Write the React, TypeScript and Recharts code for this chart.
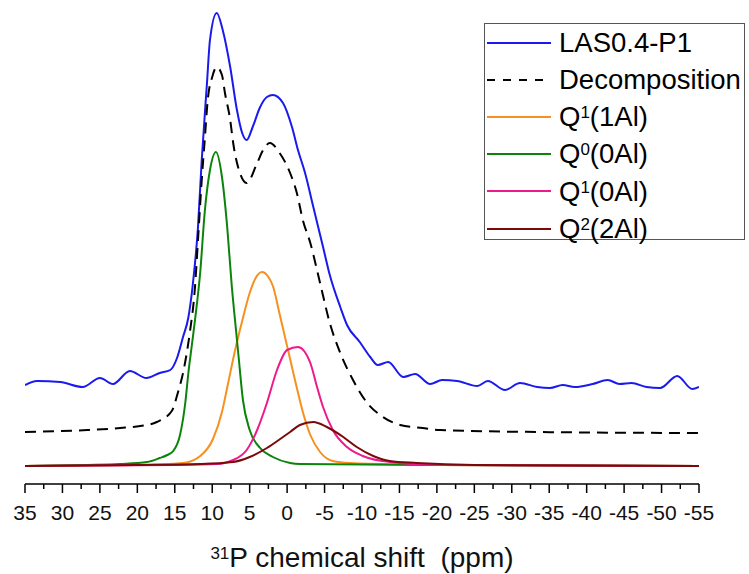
import { Legend, Line, LineChart, XAxis, YAxis } from "recharts";

const FONT = '"Liberation Sans", Arial, sans-serif';

// axis ticks (ppm, reversed axis)
const xTicks = [35, 30, 25, 20, 15, 10, 5, 0, -5, -10, -15, -20, -25, -30, -35, -40, -45, -50, -55];
const minorTicks = [32.5, 27.5, 22.5, 17.5, 12.5, 7.5, 2.5, -2.5, -7.5, -12.5, -17.5, -22.5, -27.5, -32.5, -37.5, -42.5, -47.5, -52.5];

// measured spectrum LAS0.4-P1
const lasShift = [35, 33.4, 30.3, 27.3, 25.0, 23.25, 21.0, 18.8, 17.0, 15.6, 14.7, 13.9, 13.2, 12.6, 11.9, 11.4, 10.7, 10.3, 9.4, 8.6, 7.6, 6.7, 6.0, 5.4, 4.6, 3.6, 2.7, 1.9, 0.55, -0.65, -1.45, -2.4, -3.5, -4.8, -5.7, -7.1, -8.0, -9.7, -11.1, -12.1, -13.5, -15.5, -17.1, -19.1, -20.7, -22.7, -25.4, -26.8, -29.1, -31.1, -33.4, -35.1, -36.8, -38.4, -40.8, -42.8, -44.4, -46.0, -48.0, -49.8, -52.1, -54.1, -55];
const lasIntensity = [99, 103, 102, 97, 106, 100, 113, 106, 111, 114, 126, 147, 166, 199, 257, 324, 401, 444, 471, 454, 417, 374, 351, 344, 357, 377, 387, 389, 381, 357, 334, 311, 277, 237, 209, 177, 159, 142, 127, 119, 122, 107, 110, 100, 104, 103, 98, 103, 94, 101, 97, 96, 99, 97, 100, 104, 100, 101, 97, 96, 108, 95, 97];

// sum of the fitted components (offset)
const fitShift = [35, 26.7, 22.3, 19.6, 17.4, 15.4, 14.6, 13.9, 13.4, 13.0, 12.3, 11.9, 11.4, 11.0, 10.6, 10.0, 9.4, 8.7, 8.3, 7.6, 7.2, 6.3, 5.4, 4.0, 3.2, 2.3, 1.0, -0.4, -1.3, -2.1, -3.1, -4.4, -5.7, -7.1, -8.8, -10.7, -12.8, -15.1, -18.1, -20.4, -33.4, -55];
const fitIntensity = [52, 54, 56, 58, 62, 73, 91, 111, 131, 151, 197, 244, 304, 344, 384, 407, 417, 409, 391, 364, 341, 311, 301, 321, 334, 341, 331, 311, 291, 264, 241, 201, 161, 131, 104, 81, 67, 59, 56, 54, 52, 51];

// Q1(1Al)
const q1AlShift = [35, 20.0, 13.9, 11.6, 9.9, 8.7, 7.9, 7.0, 6.0, 5.0, 4.2, 3.35, 2.5, 1.9, 1.0, -0.4, -1.3, -2.1, -3.1, -4.4, -6.1, -8.4, -20.4, -55];
const q1AlIntensity = [18, 19, 21, 28, 45, 72, 100, 132, 163, 191, 206, 212, 207, 198, 170, 125, 96, 72, 49, 32, 23, 21, 19, 18];

// Q0(0Al)
const q0Shift = [35, 26.7, 22.3, 18.7, 17.0, 16.0, 15.2, 14.3, 13.6, 13.2, 12.7, 12.3, 11.6, 11.0, 10.3, 9.5, 8.7, 8.0, 7.4, 6.8, 6.5, 5.9, 5.0, 3.6, 1.9, -0.4, -1.7, -20.4, -55];
const q0Intensity = [18, 19, 20, 22, 26, 29, 33, 49, 81, 110, 140, 164, 212, 272, 314, 332, 307, 257, 199, 152, 129, 84, 54, 36, 27, 21, 20, 19, 18];

// Q1(0Al)
const q10Shift = [35, 15.0, 9.4, 7.2, 5.4, 4.0, 2.7, 1.35, 0.0, -1.45, -3.1, -4.0, -4.8, -6.1, -8.0, -10.1, -13.7, -20.4, -55];
const q10Intensity = [18, 19, 20, 24, 34, 54, 81, 114, 134, 137, 121, 97, 77, 54, 37, 28, 22, 19, 18];

// Q2(2Al)
const q2Shift = [35, 20.0, 11.6, 7.2, 5.0, 2.7, 0.55, -0.4, -1.7, -3.5, -5.3, -7.5, -9.3, -11.5, -13.7, -17.3, -25.0, -55];
const q2Intensity = [18, 19, 20, 22, 27, 36, 47, 52, 59, 62, 57, 47, 37, 28, 23, 21, 19, 18];

const series = [
  { key: "las", label: "LAS0.4-P1", sup: "", rest: "", shift: lasShift, value: lasIntensity, color: "#1a1aee", dash: undefined },
  { key: "fit", label: "Decomposition", sup: "", rest: "", shift: fitShift, value: fitIntensity, color: "#000000", dash: "11 7" },
  { key: "q11", label: "Q", sup: "1", rest: "(1Al)", shift: q1AlShift, value: q1AlIntensity, color: "#f7901e", dash: undefined },
  { key: "q00", label: "Q", sup: "0", rest: "(0Al)", shift: q0Shift, value: q0Intensity, color: "#0b840b", dash: undefined },
  { key: "q10", label: "Q", sup: "1", rest: "(0Al)", shift: q10Shift, value: q10Intensity, color: "#ee1a8c", dash: undefined },
  { key: "q22", label: "Q", sup: "2", rest: "(2Al)", shift: q2Shift, value: q2Intensity, color: "#7a0a0a", dash: undefined },
];

function ShiftTick(props: any) {
  const { x, y, payload } = props;
  const major = payload.value % 5 === 0;
  return (
    <g>
      <line x1={x} x2={x} y1={y} y2={y + (major ? 9 : 5)} stroke="#000" strokeWidth={1.5} />
      {major && (
        <text x={x} y={y + 36} textAnchor="middle" fontSize={21} fill="#111" fontFamily={FONT}>
          {payload.value}
        </text>
      )}
    </g>
  );
}

function AxisTitle(props: any) {
  const vb = props.viewBox;
  return (
    <text
      x={vb.x + vb.width / 2}
      y={vb.y + 83}
      textAnchor="middle"
      fontFamily={FONT}
      fill="#111"
      style={{ whiteSpace: "pre" }}
    >
      <tspan fontSize={17} dy={-8}>31</tspan>
      <tspan fontSize={28} dy={8}>P chemical shift  (ppm)</tspan>
    </text>
  );
}

function LegendBox() {
  return (
    <div
      style={{
        width: 261,
        height: 217,
        boxSizing: "border-box",
        border: "1px solid #555",
        background: "#fff",
        fontFamily: FONT,
        fontSize: 27.5,
        color: "#000",
      }}
    >
      {series.map((s) => (
        <div key={s.key} style={{ display: "flex", alignItems: "center", height: 37.2 }}>
          <svg width={64} height={6} style={{ marginLeft: 2, flex: "none" }}>
            <line x1={0} x2={64} y1={3} y2={3} stroke={s.color} strokeWidth={2} strokeDasharray={s.dash ? "8 8" : undefined} />
          </svg>
          <span style={{ marginLeft: 8, lineHeight: 1, whiteSpace: "nowrap" }}>
            {s.label}
            {s.sup && (
              <span style={{ fontSize: 17, position: "relative", top: -8, lineHeight: 0 }}>{s.sup}</span>
            )}
            {s.rest}
          </span>
        </div>
      ))}
    </div>
  );
}

export default function App() {
  return (
    <div style={{ position: "absolute", left: 0, top: 0, width: 749, height: 574, background: "#fff" }}>
      <LineChart width={749} height={574} margin={{ top: 9, right: 50, bottom: 10, left: 25 }}>
        <XAxis
          type="number"
          dataKey="x"
          domain={[-55, 35]}
          reversed
          allowDataOverflow
          ticks={[...xTicks, ...minorTicks]}
          interval={0}
          tickSize={0}
          tickMargin={0}
          tickLine={false}
          tick={(p: any) => <ShiftTick {...p} />}
          axisLine={{ stroke: "#000", strokeWidth: 1.5 }}
          height={80}
          label={(p: any) => <AxisTitle {...p} />}
        />
        <YAxis type="number" domain={[0, 475]} hide />
        {series.map((s) => (
          <Line
            key={s.key}
            data={s.shift.map((x, i) => ({ x, y: s.value[i] }))}
            dataKey="y"
            name={s.key}
            type="monotone"
            stroke={s.color}
            strokeWidth={2}
            strokeDasharray={s.dash}
            dot={false}
            activeDot={false}
            isAnimationActive={false}
          />
        ))}
        <Legend
          layout="vertical"
          align="center"
          verticalAlign="middle"
          content={() => <LegendBox />}
          wrapperStyle={{ left: 484, top: 23, width: 261, height: 217 }}
        />
      </LineChart>
    </div>
  );
}
